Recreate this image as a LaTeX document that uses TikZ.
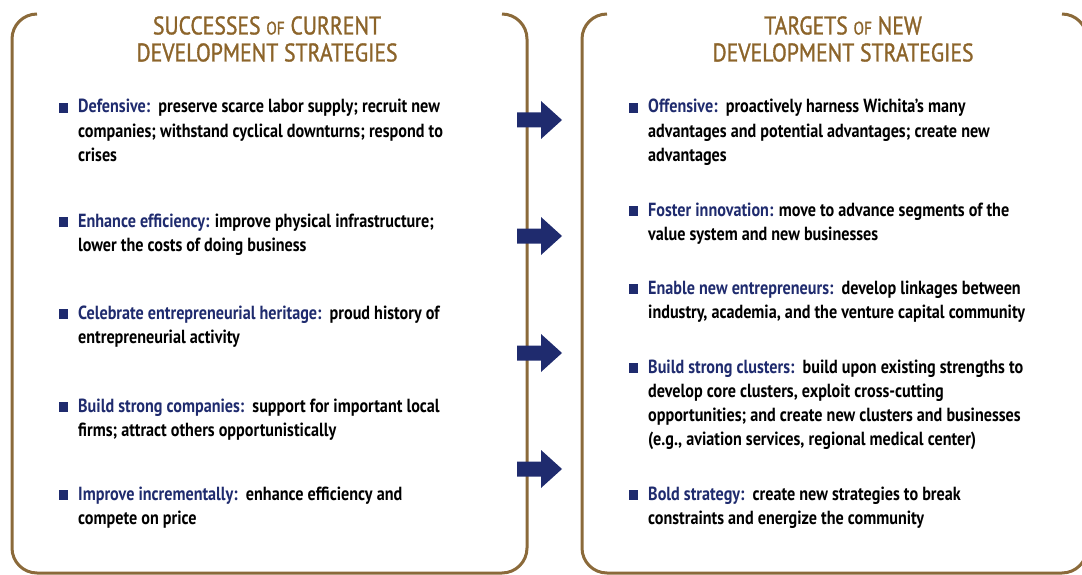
\documentclass[tikz,border=0pt]{standalone}
\usepackage{fontspec}
\setmainfont{PT Sans}[FakeStretch=0.85]
\newfontfamily\headfont{PT Sans}[FakeStretch=0.85,FakeBold=1.2]
\usepackage{tikz}

\definecolor{navy}{RGB}{31,43,110}
\definecolor{frame}{RGB}{139,106,58}
\definecolor{gold}{RGB}{140,100,42}

\newcommand{\lab}[1]{{\color{navy}#1}}
\newcommand{\bul}{\llap{\color{navy}\rule[0.5pt]{9.5pt}{9.5pt}\hspace{10pt}}}
\newcommand{\smallof}{{\fontsize{18}{18}\selectfont OF}}

\begin{document}
\begin{tikzpicture}[x=1pt,y=-1pt,
	panel/.style={line width=3pt,draw=frame,rounded corners=25pt},
	head/.style={font=\headfont\fontsize{25.5}{27}\selectfont,text=gold,align=center,inner sep=0pt},
	item/.style={anchor=base west,align=left,inner sep=0pt,font=\bfseries\fontsize{19}{24}\selectfont}]
	  \useasboundingbox (0,0) rectangle (1082,575);
	  % the two panels
	  \draw[panel] (37,14) -- (12,14) -- (12,573) -- (527,573) -- (527,14) -- (502,14);
	  \draw[panel] (607,14) -- (582,14) -- (582,573) -- (1087,573) -- (1087,14) -- (1062,14);
	  \node[head] (hl) at (267,39) {SUCCESSES \smallof{} CURRENT\\DEVELOPMENT STRATEGIES};
	  \node[head] (hr) at (843,39) {TARGETS \smallof{} NEW\\DEVELOPMENT STRATEGIES};
	  % left column (placed at the baseline of the last line)
	  \node[item] (l1) at (78,161) {\bul\lab{Defensive:}\ \ preserve scarce labor supply; recruit new\\companies; withstand cyclical downturns; respond to\\crises};
	  \node[item] (l2) at (78,251) {\bul\lab{Enhance efficiency:} improve physical infrastructure;\\lower the costs of doing business};
	  \node[item] (l3) at (78,343) {\bul\lab{Celebrate entrepreneurial heritage:}\ \ proud history of\\entrepreneurial activity};
	  \node[item] (l4) at (78,436) {\bul\lab{Build strong companies:}\ \ support for important local\\firms; attract others opportunistically};
	  \node[item] (l5) at (78,524) {\bul\lab{Improve incrementally:}\ \ enhance efficiency and\\compete on price};
	  % right column
	  \node[item] (r1) at (648,161) {\bul\lab{Offensive:}\ \ proactively harness Wichita’s many\\advantages and potential advantages; create new\\advantages};
	  \node[item] (r2) at (648,240) {\bul\lab{Foster innovation:} move to advance segments of the\\value system and new businesses};
	  \node[item] (r3) at (648,318) {\bul\lab{Enable new entrepreneurs:}\ \ develop linkages between\\industry, academia, and the venture capital community};
	  \node[item] (r4) at (648,445) {\bul\lab{Build strong clusters:}\ \ build upon existing strengths to\\develop core clusters, exploit cross-cutting\\opportunities; and create new clusters and businesses\\(e.g., aviation services, regional medical center)};
	  \node[item] (r5) at (648,524) {\bul\lab{Bold strategy:}\ \ create new strategies to break\\constraints and energize the community};
	  % arrows between the panels
	  \foreach \y in {120,236,353,469}
	    \fill[navy] (517,\y-7.5) -- (541,\y-7.5) -- (541,\y-19) -- (562,\y) -- (541,\y+19) -- (541,\y+7.5) -- (517,\y+7.5) -- cycle;
\end{tikzpicture}
\end{document}
